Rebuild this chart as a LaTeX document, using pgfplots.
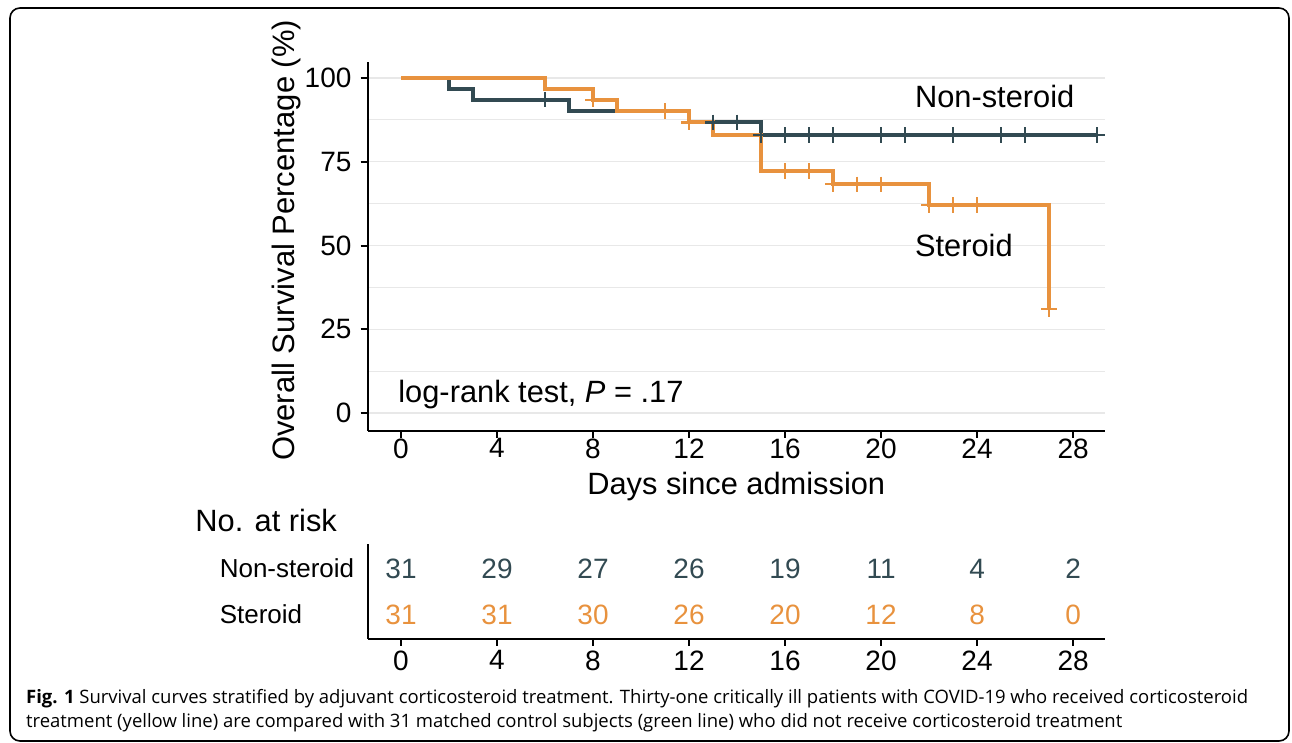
\documentclass[border=0pt]{standalone}
\usepackage{pgfplots}
\pgfplotsset{compat=1.18}
\usepackage{fontspec}
\setmainfont{Liberation Sans}
\newfontfamily\capfont{Open Sans}
\definecolor{nonst}{RGB}{50,74,82}
\definecolor{ster}{RGB}{232,146,62}
\definecolor{gridc}{RGB}{232,232,232}
\newlength\capw
\begin{document}
\settowidth\capw{\capfont\fontsize{10}{12}\selectfont\textbf{Fig. 1} Survival curves stratified by adjuvant corticosteroid treatment. Thirty-one critically ill patients with COVID-19 who received corticosteroid}%
\pgfmathsetmacro\capfs{10*611/\capw}%
\begin{tikzpicture}
\useasboundingbox (0,0) rectangle (646pt,-371.5pt);
\begin{scope}
\clip (0,0) rectangle (646pt,-371.5pt);
\draw[line width=0.8pt, black, rounded corners=5pt] (5pt,-4pt) rectangle (644.5pt,-370.5pt);
\end{scope}

\begin{axis}[
  at={(183.75pt,-215.25pt)}, anchor=south west,
  scale only axis, width=368.75pt, height=184.25pt,
  xmin=-1.396, xmax=29.33, ymin=-5.22, ymax=104.78,
  axis lines=left, axis line style={-, line width=1pt, black},
  xtick={0,4,...,28}, ytick={0,25,...,100},
  minor ytick={12.5,37.5,62.5,87.5},
  ymajorgrids, yminorgrids,
  grid style={gridc, line width=0.6pt}, minor grid style={gridc, line width=0.6pt},
  tick align=outside, major tick length=3.5pt, minor tick length=0pt,
  major tick style={black, line width=1pt},
  ticklabel style={font=\fontsize{14}{14}\selectfont},
  xticklabel style={yshift=3pt},
  yticklabel style={xshift=-1pt},
  /pgf/number format/assume math mode=true,
  xlabel={Days since admission}, ylabel={Overall Survival Percentage (\%)},
  label style={font=\fontsize{15.4}{15.4}\selectfont},
  xlabel style={at={(axis description cs:0.5,-0.152)}, anchor=center},
  ylabel style={font=\fontsize{15.5}{15.5}\selectfont, at={(axis description cs:-0.1105,0.516)}, anchor=center},
  clip=false,
]
\addplot[const plot, color=nonst, line width=2pt] coordinates {(0,100) (2,96.77) (3,93.55) (7,90.21) (12,86.74) (15,82.9) (29,82.9)};
\addplot[const plot, color=ster, line width=2pt] coordinates {(0,100) (6,96.77) (8,93.55) (9,90.21) (12,86.74) (13,83.12) (15,72.28) (18,68.26) (22,62.05) (27,31.03)};
\addplot[only marks, mark=+, mark size=3.9pt, color=nonst, mark options={line width=1.1pt}] coordinates {(6,93.55) (13,86.74) (14,86.74) (15,82.9) (16,82.9) (17,82.9) (18,82.9) (20,82.9) (21,82.9) (23,82.9) (25,82.9) (26,82.9) (29,82.9)};
\addplot[only marks, mark=+, mark size=3.9pt, color=ster, mark options={line width=1.1pt}] coordinates {(8,93.55) (11,90.21) (12,86.74) (16,72.28) (17,72.28) (18,68.26) (19,68.26) (20,68.26) (22,62.05) (23,62.05) (24,62.05) (27,31.03)};
\node[anchor=west, inner sep=0pt, font=\fontsize{15.4}{15.4}\selectfont] at (axis cs:21.4,94.4) {Non-steroid};
\node[anchor=west, inner sep=0pt, font=\fontsize{15.4}{15.4}\selectfont] at (axis cs:21.4,49.9) {Steroid};
\node[anchor=west, inner sep=0pt, font=\fontsize{15.4}{15.4}\selectfont] at (axis cs:-0.125,5.4) {log-rank test, \textit{P} = .17};
\end{axis}

\begin{axis}[
  at={(183.75pt,-319.25pt)}, anchor=south west,
  scale only axis, width=368.75pt, height=47pt,
  xmin=-1.396, xmax=29.33, ymin=0, ymax=94,
  axis lines=left, axis line style={-, line width=1pt, black},
  xtick={0,4,...,28}, ytick={24,70}, yticklabels={Steroid,Non-steroid},
  tick align=outside, major tick length=3.5pt,
  x tick style={black, line width=1pt}, y tick style={draw=none},
  xticklabel style={font=\fontsize{14}{14}\selectfont, yshift=1pt},
  yticklabel style={font=\fontsize{13}{13}\selectfont, text width=72pt, align=flush left, inner sep=0pt, anchor=east, xshift=1.85pt},
  /pgf/number format/assume math mode=true,
  clip=false,
]
\addplot[only marks, mark=none, nodes near coords, point meta=explicit symbolic,
  every node near coord/.style={anchor=center, font=\fontsize{14}{14}\selectfont, text=nonst}]
  table[meta=n] {
x y n
0 70 31
4 70 29
8 70 27
12 70 26
16 70 19
20 70 11
24 70 4
28 70 2
};
\addplot[only marks, mark=none, nodes near coords, point meta=explicit symbolic,
  every node near coord/.style={anchor=center, font=\fontsize{14}{14}\selectfont, text=ster}]
  table[meta=n] {
x y n
0 24 31
4 24 31
8 24 30
12 24 26
16 24 20
20 24 12
24 24 8
28 24 0
};
\end{axis}

\node[anchor=west, inner sep=0pt, font=\fontsize{15.4}{15.4}\selectfont] at (97.5pt,-260pt) {No. at risk};

\node[anchor=west, inner sep=0pt, font=\capfont\fontsize{\capfs}{\capfs}\selectfont] at (12.85pt,-349.5pt) {\textbf{Fig. 1} Survival curves stratified by adjuvant corticosteroid treatment. Thirty-one critically ill patients with COVID-19 who received corticosteroid};
\node[anchor=west, inner sep=0pt, font=\capfont\fontsize{\capfs}{\capfs}\selectfont] at (12.85pt,-361.5pt) {treatment (yellow line) are compared with 31 matched control subjects (green line) who did not receive corticosteroid treatment};
\end{tikzpicture}
\end{document}
